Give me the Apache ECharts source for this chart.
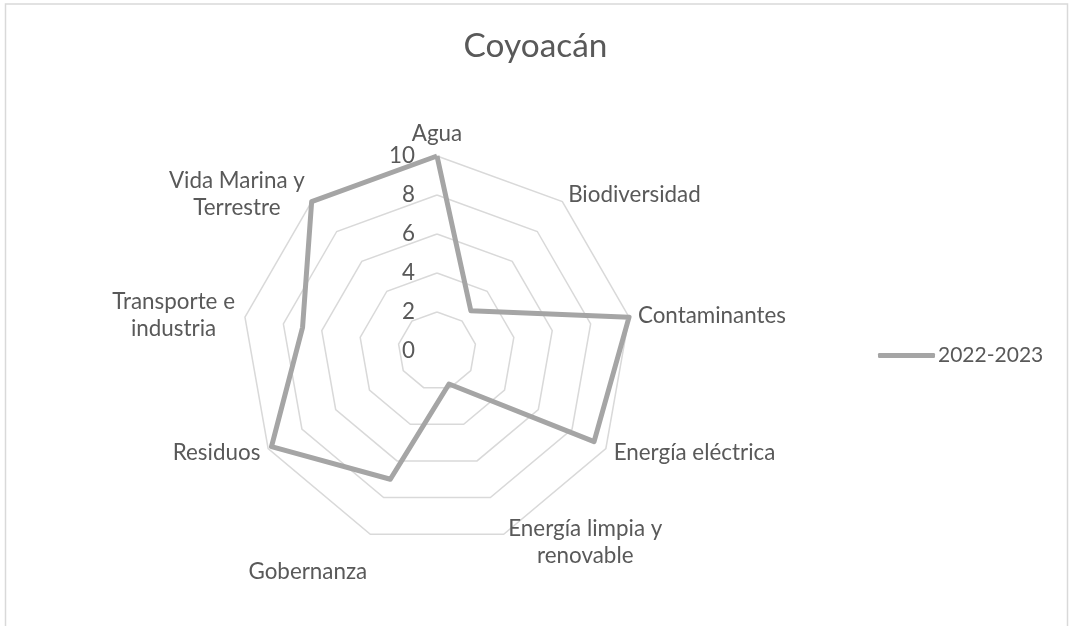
<!DOCTYPE html>
<html>
<head>
<meta charset="utf-8">
<script src="https://cdn.jsdelivr.net/npm/echarts@6/dist/echarts.min.js"></script>
<style>
html,body{margin:0;padding:0;background:#fff;}
#chart{width:1071px;height:626px;}
</style>
</head>
<body>
<div id="chart"></div>
<script>
// Data (clockwise from top, as in the reference)
const categories = ['Agua', 'Biodiversidad', 'Contaminantes', 'Energía eléctrica', 'Energía limpia y\nrenovable', 'Gobernanza', 'Residuos', 'Transporte e\nindustria', 'Vida Marina y\nTerrestre'];
const values2022 = [10, 2.7, 10, 9.3, 1.8, 7, 9.8, 7, 10];
const seriesName = '2022-2023';
const tickMin = 0, tickMax = 10, tickStep = 2;
const titleText = 'Coyoacán';

const FONT = 'Lato';
const TXT = '#595959';
const LBL = 22.4;

// ECharts radar runs counter-clockwise: reorder so it reads clockwise
const order = [0].concat(categories.map((_, i) => i).slice(1).reverse());
const indicator = order.map(i => ({ name: categories[i], max: tickMax, min: tickMin }));
const data = order.map(i => values2022[i]);

// measure widths for centered multi-line labels
const ctx = document.createElement('canvas').getContext('2d');
ctx.font = LBL + 'px ' + FONT;
const rich = {
  low: { fontSize: LBL, fontFamily: FONT, color: TXT, padding: [58, 0, 0, 0] }
};
const nameKey = {};
categories.forEach((c, k) => {
  if (c.indexOf('\n') >= 0) {
    const w = Math.max(...c.split('\n').map(s => ctx.measureText(s).width));
    rich['m' + k] = { width: Math.ceil(w) + 2, align: 'center', fontSize: LBL, fontFamily: FONT, color: TXT, lineHeight: 27 };
    nameKey[c] = 'm' + k;
  }
});
nameKey['Gobernanza'] = 'low';

const chart = echarts.init(document.getElementById('chart'));
const cx = 437, cy = 351, R = 195;
chart.setOption({
  animation: false,
  backgroundColor: '#fff',
  graphic: [{
    type: 'rect', shape: { x: 5.5, y: 4, width: 1062, height: 640 },
    style: { fill: 'none', stroke: '#d9d9d9', lineWidth: 1.5 }, silent: true
  }],
  title: {
    text: titleText, left: 'center', top: 25,
    textStyle: { fontFamily: FONT, fontSize: 33.4, fontWeight: 'normal', color: TXT }
  },
  legend: {
    data: [seriesName], orient: 'vertical', left: 873, top: 340,
    icon: 'roundRect', itemWidth: 57, itemHeight: 5, itemGap: 5,
    textStyle: { fontFamily: FONT, fontSize: 21, color: TXT, padding: [0, 0, 0, -2] }
  },
  radar: {
    center: [cx, cy], radius: R, startAngle: 90, shape: 'polygon',
    splitNumber: 5, indicator: indicator, nameGap: 9,
    axisName: {
      fontFamily: FONT, fontSize: LBL, color: TXT, lineHeight: 27,
      formatter: function (name) {
        if (nameKey[name]) return name.split('\n').map(s => '{' + nameKey[name] + '|' + s + '}').join('\n');
        return name;
      },
      rich: rich
    },
    axisLine: { show: false },
    axisTick: { show: false },
    axisLabel: { show: false },
    splitLine: { lineStyle: { color: '#d9d9d9', width: 1.5 } },
    splitArea: { show: false }
  },
  polar: { center: [cx, cy], radius: R },
  angleAxis: { show: false, startAngle: 90, min: 0, max: 360 },
  radiusAxis: {
    min: tickMin, max: tickMax, interval: tickStep,
    axisLine: { show: false }, axisTick: { show: false }, splitLine: { show: false },
    axisLabel: { show: true, fontFamily: FONT, fontSize: LBL, color: TXT, margin: 22 }
  },
  series: [{
    name: seriesName, type: 'radar', symbol: 'none',
    lineStyle: { color: '#a5a5a5', width: 5 },
    itemStyle: { color: '#a5a5a5' },
    data: [{ value: data, name: seriesName }]
  }]
});
</script>
</body>
</html>
